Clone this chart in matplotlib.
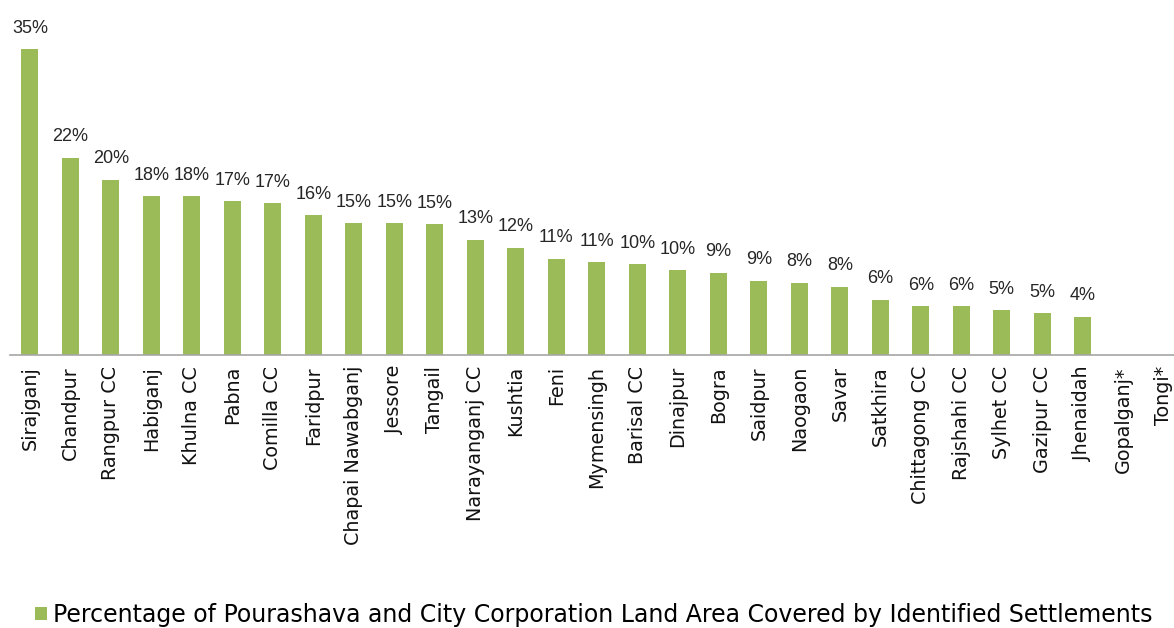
import matplotlib
matplotlib.use('Agg')
import matplotlib.pyplot as plt

towns = ['Sirajganj', 'Chandpur', 'Rangpur CC', 'Habiganj', 'Khulna CC', 'Pabna',
         'Comilla CC', 'Faridpur', 'Chapai Nawabganj', 'Jessore', 'Tangail',
         'Narayanganj CC', 'Kushtia', 'Feni', 'Mymensingh', 'Barisal CC', 'Dinajpur',
         'Bogra', 'Saidpur', 'Naogaon', 'Savar', 'Satkhira', 'Chittagong CC',
         'Rajshahi CC', 'Sylhet CC', 'Gazipur CC', 'Jhenaidah', 'Gopalganj*', 'Tongi*']
coverage = [35.0, 22.6, 20.1, 18.2, 18.2, 17.6, 17.4, 16.0, 15.1, 15.1, 15.0,
            13.2, 12.3, 11.0, 10.6, 10.4, 9.7, 9.4, 8.5, 8.3, 7.8, 6.3, 5.6,
            5.6, 5.1, 4.8, 4.4, 0, 0]
labels = ['35%', '22%', '20%', '18%', '18%', '17%', '17%', '16%', '15%', '15%', '15%',
          '13%', '12%', '11%', '11%', '10%', '10%', '9%', '9%', '8%', '8%', '6%', '6%',
          '6%', '5%', '5%', '4%', '', '']
legend_text = ('Percentage of Pourashava and City Corporation Land Area '
               'Covered by Identified Settlements')

GREEN = '#9BBB59'
W, H = 1174, 628

fig = plt.figure(figsize=(W / 100, H / 100), dpi=100)
# axes placed in pixels: left 9.75, right 1184, baseline y=355, 8.73 px per %
top_px = 355 - 40 * 8.73
ax = fig.add_axes([9.75 / W, (H - 355) / H, 1174.25 / W, (355 - top_px) / H])

x = list(range(len(towns)))
bars = ax.bar(x, coverage, width=0.42, color=GREEN, label=legend_text)
ax.set_xlim(-0.5, len(towns) - 0.5)
ax.set_ylim(0, 40)

for xi, v, lab in zip(x, coverage, labels):
    if lab:
        ax.annotate(lab, (xi, v), xytext=(0, 11.9), textcoords='offset points',
                    ha='center', va='baseline', fontsize=13,
                    family='Liberation Sans', color='#262626', annotation_clip=False)

for s in ['top', 'right', 'left']:
    ax.spines[s].set_visible(False)
ax.spines['bottom'].set_color('#A6A6A6')
ax.spines['bottom'].set_linewidth(1.2)
ax.set_yticks([])
ax.set_xticks(x)
ax.set_xticklabels(towns, rotation=90, fontsize=13.8, family='DejaVu Sans',
                   color='#111111')
ax.tick_params(axis='x', length=0, pad=8)

fig.legend(handles=[bars], labels=[legend_text], loc='center left',
           bbox_to_anchor=(14 / W, 1 - 615 / H), frameon=False,
           prop={'family': 'DejaVu Sans', 'size': 17},
           handlelength=0.5, handleheight=0.5, handletextpad=0.25)

fig.savefig('out.png', dpi=100)
